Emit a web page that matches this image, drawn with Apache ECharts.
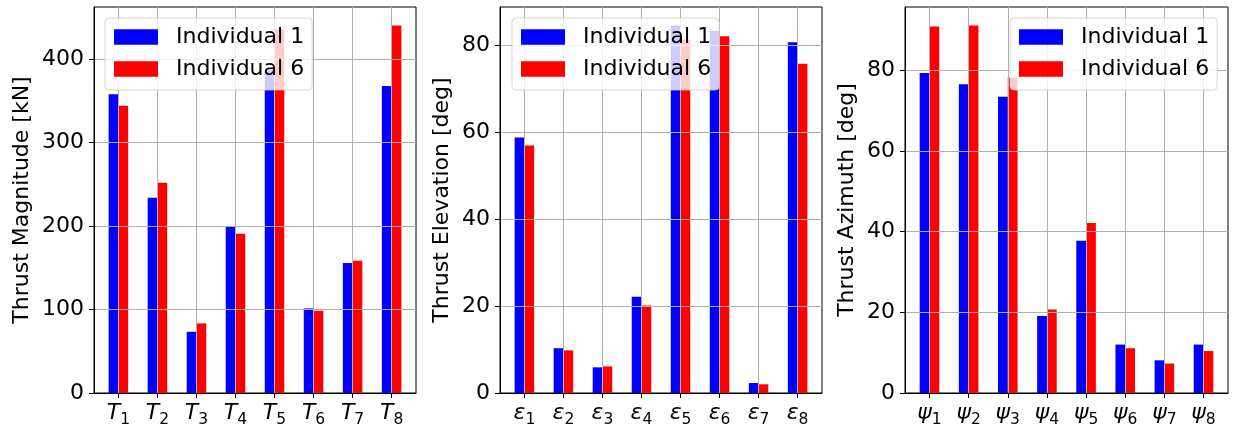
<!DOCTYPE html>
<html>
<head>
<meta charset="utf-8">
<script src="https://cdn.jsdelivr.net/npm/echarts@6.0.0/dist/echarts.min.js"></script>
<style>
  html, body { margin: 0; padding: 0; background: #fff; }
  #chart { width: 1233px; height: 428px; }
</style>
</head>
<body>
<div id="chart"></div>
<script>
// --- 数据 ---
const seriesNames = ['Individual 1', 'Individual 6'];
const tickSubs = ['1', '2', '3', '4', '5', '6', '7', '8'];

// 推力大小 [kN]
const magInd1 = [358, 234, 73.4, 199, 387, 101.4, 155.7, 368];
const magInd6 = [344.5, 252, 83.4, 191, 436, 98.6, 158.5, 440.7];
const magTicks = [0, 100, 200, 300, 400];

// 推力仰角 [deg]
const elevInd1 = [58.7, 10.3, 5.9, 22.1, 84.5, 83.2, 2.3, 80.6];
const elevInd6 = [56.9, 9.8, 6.1, 20.1, 81.2, 82.0, 2.0, 75.7];
const elevTicks = [0, 20, 40, 60, 80];

// 推力方位角 [deg]
const aziInd1 = [79.3, 76.5, 73.4, 19.1, 37.7, 12.0, 8.1, 12.0];
const aziInd6 = [90.8, 91.1, 78.1, 20.7, 42.1, 11.1, 7.3, 10.4];
const aziTicks = [0, 20, 40, 60, 80];

// --- 三个子图 ---
const panels = [
  { sym: 'T', title: 'Thrust Magnitude [kN]', a: magInd1, b: magInd6, ticks: magTicks,
    left: 94, width: 322, nameGap: 61, legendLeft: 105 },
  { sym: 'ε', title: 'Thrust Elevation [deg]', a: elevInd1, b: elevInd6, ticks: elevTicks,
    left: 500, width: 322, nameGap: 47, legendLeft: 512 },
  { sym: 'ψ', title: 'Thrust Azimuth [deg]', a: aziInd1, b: aziInd6, ticks: aziTicks,
    left: 905, width: 323, nameGap: 47, legendLeft: 1010 }
];

const FONT = 'DejaVu Sans';
const idx = tickSubs.map((_, i) => i);
const gridLine = { show: true, lineStyle: { color: '#b0b0b0', width: 1 } };
const blackLine = { color: '#000', width: 1 };

const grids = [], xAxes = [], yAxes = [], legends = [], series = [];

panels.forEach((p, i) => {
  // matplotlib 默认留 5% 边距
  const yMax = Math.max(...p.a, ...p.b) * 1.05;

  grids.push({
    left: p.left, width: p.width, top: 7, height: 386,
    show: true, borderColor: '#000', borderWidth: 1, containLabel: false
  });

  xAxes.push({
    type: 'value', gridIndex: i, min: -0.625, max: 7.625, z: 3,
    axisLine: { show: true, onZero: false, lineStyle: blackLine },
    axisTick: { show: true, length: 5, customValues: idx, lineStyle: blackLine },
    axisLabel: {
      customValues: idx,
      margin: 9,
      formatter: v => `{m|${p.sym}}{s|${tickSubs[v]}}`,
      rich: {
        // 下标：用上内边距把数字压低
        m: { fontFamily: FONT, fontStyle: 'italic', fontSize: 22, lineHeight: 22, color: '#000' },
        s: { fontFamily: FONT, fontSize: 15.5, lineHeight: 12, padding: [14, 0, 0, 0], color: '#000' }
      }
    },
    splitLine: gridLine
  });

  yAxes.push({
    type: 'value', gridIndex: i, min: 0, max: yMax, z: 3,
    name: p.title, nameLocation: 'middle', nameGap: p.nameGap, nameRotate: 90,
    nameTextStyle: { fontFamily: FONT, fontSize: 22, color: '#000' },
    axisLine: { show: true, onZero: false, lineStyle: blackLine },
    axisTick: { show: true, length: 5, customValues: p.ticks, lineStyle: blackLine },
    axisLabel: { customValues: p.ticks, margin: 10, fontFamily: FONT, fontSize: 22, color: '#000' },
    splitLine: gridLine
  });

  legends.push({
    data: seriesNames, orient: 'vertical', left: p.legendLeft, top: 18,
    icon: 'rect', itemWidth: 44, itemHeight: 15.5, itemGap: 10,
    padding: [8, 8, 10, 9],
    backgroundColor: 'rgba(255,255,255,0.8)',
    borderColor: 'rgba(204,204,204,0.8)', borderWidth: 1, borderRadius: 4,
    selectedMode: false,
    textStyle: { fontFamily: FONT, fontSize: 22, color: '#000', padding: [0, 0, 0, 13] }
  });

  [p.a, p.b].forEach((vals, k) => {
    series.push({
      type: 'bar', name: seriesNames[k],
      xAxisIndex: i, yAxisIndex: i,
      data: vals.map((v, j) => [j, v]),
      barWidth: '25%', barGap: '0%',
      itemStyle: { color: k === 0 ? '#0000ff' : '#ff0000' }
    });
  });
});

const chart = echarts.init(document.getElementById('chart'));
chart.setOption({
  animation: false,
  textStyle: { fontFamily: FONT },
  grid: grids,
  xAxis: xAxes,
  yAxis: yAxes,
  legend: legends,
  series: series
});

window.addEventListener('resize', () => chart.resize());
</script>
</body>
</html>
